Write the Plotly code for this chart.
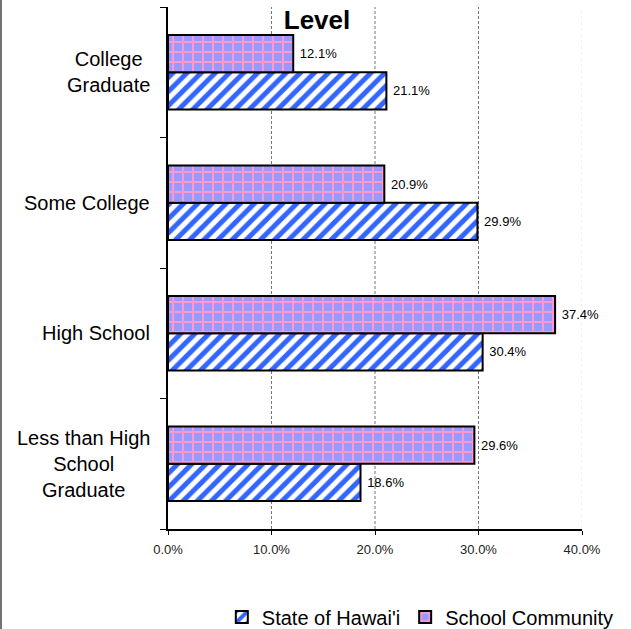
import plotly.graph_objects as go

categories = ["Less than High<br>School<br>Graduate", "High School", "Some College", "College<br>Graduate"]
state_values = [18.6, 30.4, 29.9, 21.1]
school_values = [29.6, 37.4, 20.9, 12.1]
series_names = ["State of Hawai'i", "School Community"]
x_ticks = [0, 10, 20, 30, 40]
title_text = "Level"

FONT = "Liberation Sans, Arial, sans-serif"
W, H = 631, 629
ML, MR, MT, MB = 168, 49, 7, 100
PW, PH = W - ML - MR, H - MT - MB

fig = go.Figure()
fig.add_trace(go.Bar(
    y=categories, x=state_values, orientation="h", name=series_names[0],
    marker=dict(color="white", line=dict(color="black", width=2),
                pattern=dict(shape="/", fgcolor="#3366ff", bgcolor="white", size=10, solidity=0.5,
                             fillmode="replace", fgopacity=1)),
    text=[f"\u00a0{v:.1f}%" for v in state_values], textposition="outside",
    textfont=dict(size=13, color="black", family=FONT), cliponaxis=False,
))
fig.add_trace(go.Bar(
    y=categories, x=school_values, orientation="h", name=series_names[1],
    marker=dict(color="#9999ff", line=dict(color="black", width=2),
                pattern=dict(shape="+", fgcolor="#ff99cc", bgcolor="#9999ff", size=10, solidity=0.35,
                             fillmode="replace", fgopacity=1)),
    text=[f"\u00a0{v:.1f}%" for v in school_values], textposition="outside",
    textfont=dict(size=13, color="black", family=FONT), cliponaxis=False,
))

for c in categories:
    fig.add_annotation(x=-16 / PW, xref="paper", y=c, yref="y", text=c, showarrow=False,
                       xanchor="right", align="center", font=dict(size=20, color="black", family=FONT))

# vertical gridlines
for v in x_ticks[1:]:
    faint = v == x_ticks[-1]
    fig.add_shape(type="line", xref="x", yref="paper", x0=v, x1=v, y0=0, y1=1, layer="below",
                  line=dict(color="#e4e4e4" if faint else "#777", width=1,
                            dash="dot" if faint else "3px,2px"))

# left frame line
fig.add_shape(type="line", xref="paper", yref="paper",
              x0=(1 - ML) / PW, x1=(1 - ML) / PW, y0=-(MB) / PH, y1=1 + MT / PH,
              line=dict(color="#444", width=1.5))

fig.update_layout(
    width=W, height=H, margin=dict(l=ML, r=MR, t=MT, b=MB, autoexpand=False),
    paper_bgcolor="white", plot_bgcolor="white",
    barmode="group", bargap=0.43, bargroupgap=0,
    font=dict(family=FONT, color="black"),
    title=dict(text="<b>" + title_text + "</b>", x=317 / W, xanchor="center", xref="container",
               y=1 - 20 / H, yanchor="middle", yref="container",
               font=dict(size=26, color="black", family=FONT)),
    legend=dict(orientation="h", x=0.13, xanchor="left", y=1 - 617 / H, yanchor="middle",
                yref="container",
                font=dict(size=20, color="black", family=FONT), itemsizing="constant",
                traceorder="normal", tracegroupgap=0, itemwidth=30),
    xaxis=dict(range=[0, 40], tickvals=x_ticks, ticktext=[f"{v:.1f}%" for v in x_ticks],
               showline=True, linecolor="black", linewidth=1.5, ticks="outside", ticklen=4,
               tickcolor="black", showgrid=False,
               zeroline=False, tickfont=dict(size=13, color="#222", family=FONT), ticklabelstandoff=4),
    yaxis=dict(showticklabels=False, showline=True, linecolor="black", linewidth=1.5,
               ticks="outside", ticklen=6, tickcolor="black", tickson="boundaries",
               showgrid=False, zeroline=False, range=[-0.5, 3.5]),
)

fig.write_html("out.html", config={"displayModeBar": False},
               post_script="document.body.style.margin='0';")
